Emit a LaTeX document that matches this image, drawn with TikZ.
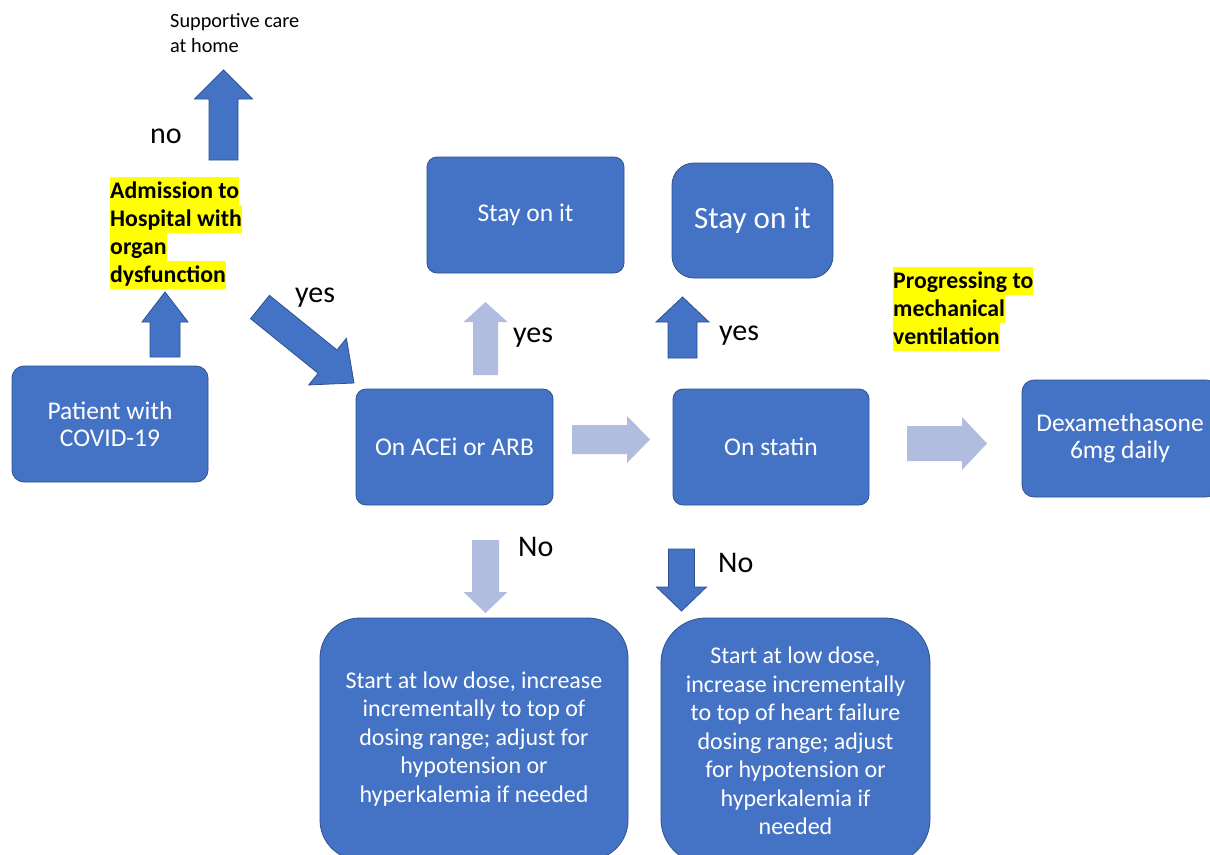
\documentclass[tikz,border=0pt]{standalone}
\usepackage{fontspec}
\setmainfont{Carlito}
\usetikzlibrary{calc}
\definecolor{boxblue}{HTML}{4472C4}
\definecolor{edgeblue}{HTML}{2F528F}
\definecolor{lightarrow}{HTML}{B0BDDF}
\definecolor{hlyellow}{HTML}{FFFF00}
\newcommand\blockarrow[6]{%
  \coordinate (ba-h) at ($(#2)!#5pt!(#1)$);
  \path[#6] ($(#1)!#3pt!90:(#2)$) -- ($(ba-h)!#3pt!-90:(#1)$) -- ($(ba-h)!#4pt!-90:(#1)$) -- (#2)
    -- ($(ba-h)!#4pt!90:(#1)$) -- ($(ba-h)!#3pt!90:(#1)$) -- ($(#1)!#3pt!-90:(#2)$) -- cycle;}
\tikzset{
  box/.style={fill=boxblue, draw=edgeblue, line width=0.8pt, text=white, align=center,
    font=\fontsize{25.5}{27}\selectfont, inner sep=0pt},
  bigbox/.style={box, font=\fontsize{24}{28.5}\selectfont},
  darkarrow/.style={fill=boxblue, draw=edgeblue, line width=0.8pt},
  lightarr/.style={fill=lightarrow},
  lbl/.style={font=\fontsize{30}{34}\selectfont, inner sep=0pt, anchor=base west},
  hlline/.style={fill=hlyellow, font=\bfseries\fontsize{23.8}{28}\selectfont, anchor=base west,
    inner sep=0pt, text height=21pt, text depth=7pt}
}
\begin{document}
\begin{tikzpicture}[x=1pt,y=-1pt]
\clip (0,0) rectangle (1210,854);
\fill[white] (0,0) rectangle (1210,854);

% boxes
\node[box, minimum width=196, minimum height=116, rounded corners=12] (pat) at (110,424) {Patient with\\COVID-19};
\node[box, minimum width=197, minimum height=116, rounded corners=10] (ace) at (454.5,447) {On ACEi or ARB};
\node[box, minimum width=197, minimum height=116, rounded corners=10] (stay1) at (525.5,215) {Stay on it};
\node[box, minimum width=161, minimum height=115, rounded corners=22, font=\fontsize{31}{34}\selectfont] (stay2) at (752.5,220.5) {Stay on it};
\node[box, minimum width=196, minimum height=116, rounded corners=10] (statin) at (771,447) {On statin};
\node[box, minimum width=196, minimum height=117, rounded corners=12] (dexa) at (1120,438.5) {Dexamethasone\\6mg daily};
\node[bigbox, minimum width=308, minimum height=242, rounded corners=40] (start1) at (474,739)
  {Start at low dose, increase\\incrementally to top of\\dosing range; adjust for\\hypotension or\\hyperkalemia if needed};
\node[bigbox, minimum width=269, minimum height=246, rounded corners=45] (start2) at (795.5,741)
  {Start at low dose,\\increase incrementally\\to top of heart failure\\dosing range; adjust\\for hypotension or\\hyperkalemia if\\needed};

% highlighted labels
\node[hlline] (adm1) at (110,198) {Admission to\hspace{6pt}};
\node[hlline] (adm2) at (110,226) {Hospital with};
\node[hlline] (adm3) at (110,254) {organ};
\node[hlline] (adm4) at (110,282) {dysfunction};
\node[hlline] (prog1) at (893,288) {Progressing to\hspace{6pt}};
\node[hlline] (prog2) at (893,316) {mechanical};
\node[hlline] (prog3) at (893,344) {ventilation};

% plain labels
\node[inner sep=0pt, anchor=north west, align=left, font=\fontsize{20.3}{25}\selectfont] (home) at (170,13) {Supportive care\\at home};
\node[lbl] (no1) at (150,143) {no};
\node[lbl] (yes1) at (295,302) {yes};
\node[lbl] (yes2) at (513,342) {yes};
\node[lbl] (yes3) at (719,340) {yes};
\node[lbl] (No1) at (518,556) {No};
\node[lbl] (No2) at (718,572) {No};

% arrow end points
\coordinate (a1s) at (165,357); \coordinate (a1e) at (165,292);
\coordinate (a2s) at (223.5,160); \coordinate (a2e) at (223.5,70);
\coordinate (a3s) at (260,307); \coordinate (a3e) at (354,383);
\coordinate (a4s) at (485.5,375); \coordinate (a4e) at (485.5,302);
\coordinate (a5s) at (682.5,358); \coordinate (a5e) at (682.5,297);
\coordinate (a6s) at (572,439.5); \coordinate (a6e) at (650,439.5);
\coordinate (a7s) at (907,443.5); \coordinate (a7e) at (987,443.5);
\coordinate (a8s) at (485.5,540); \coordinate (a8e) at (485.5,613);
\coordinate (a9s) at (681.5,549); \coordinate (a9e) at (681.5,611);

% block arrows
\blockarrow{a1s}{a1e}{15}{23}{30}{darkarrow}
\blockarrow{a2s}{a2e}{14.5}{29}{29}{darkarrow}
\blockarrow{a3s}{a3e}{15}{30}{34}{darkarrow}
\blockarrow{a4s}{a4e}{12.5}{22}{20}{lightarr}
\blockarrow{a5s}{a5e}{14.5}{26.5}{25}{darkarrow}
\blockarrow{a6s}{a6e}{14.5}{23.5}{23}{lightarr}
\blockarrow{a7s}{a7e}{17.5}{26.5}{25}{lightarr}
\blockarrow{a8s}{a8e}{13.5}{22}{21}{lightarr}
\blockarrow{a9s}{a9e}{13}{25}{24}{darkarrow}
\end{tikzpicture}
\end{document}
